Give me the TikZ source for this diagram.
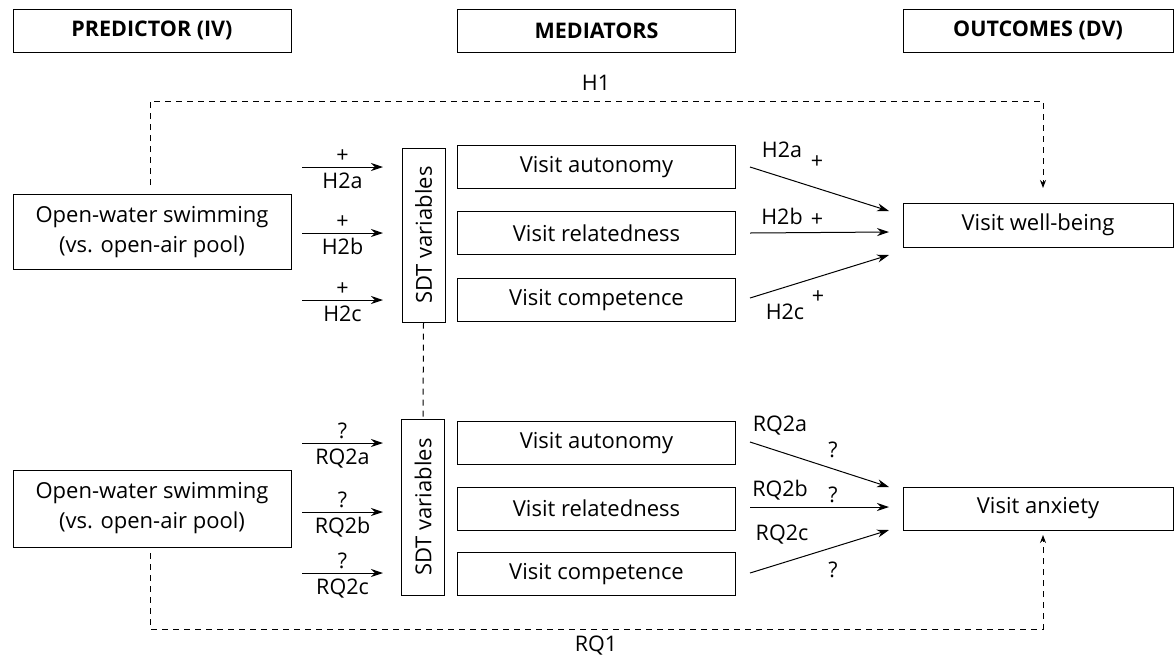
\documentclass[tikz,border=0pt]{standalone}
\usepackage{fontspec}
\setmainfont{Open Sans}
\usetikzlibrary{arrows.meta}

\tikzset{
  box/.style={draw, line width=1pt, inner sep=0pt, align=center, minimum width=278pt, font=\fontsize{22}{30}\selectfont},
  headbox/.style={box, minimum height=43pt, font=\fontsize{21.5}{24}\selectfont\bfseries},
  medbox/.style={box, minimum height=43pt},
  sdtbox/.style={box, rotate=90, minimum width=174pt, minimum height=43pt},
  path/.style={line width=1pt, -{Stealth[length=12pt, width=8pt]}},
  hyp/.style={line width=1pt, dash pattern=on 6pt off 5pt},
  lbl/.style={inner sep=0pt, font=\fontsize{21.5}{25}\selectfont}
}

\begin{document}
\begin{tikzpicture}[x=1pt, y=-1pt]
    \useasboundingbox (0,0) rectangle (1174,665);

    % column headings
    \node[headbox] (pred) at (152,30.5) {PREDICTOR (IV)};
    \node[headbox] (med) at (596.5,30.5) {MEDIATORS};
    \node[headbox, minimum width=270pt] (out) at (1038,30.5) {OUTCOMES (DV)};

    % upper model: well-being
    \node[box, minimum height=75pt] (iv1) at (152,232) {Open-water swimming\\(vs. open-air pool)};
    \node[sdtbox] (sdt1) at (423.5,235) {SDT variables};
    \node[medbox] (aut1) at (596.5,167) {Visit autonomy};
    \node[medbox] (rel1) at (596.5,233) {Visit relatedness};
    \node[medbox] (com1) at (596.5,300) {Visit competence};
    \node[box, minimum width=270pt, minimum height=44pt] (wb) at (1038,225) {Visit well-being};

    % lower model: anxiety
    \node[box, minimum height=77pt] (iv2) at (152,508.5) {Open-water swimming\\(vs. open-air pool)};
    \node[sdtbox, minimum width=176pt] (sdt2) at (423,507) {SDT variables};
    \node[medbox] (aut2) at (596.5,443) {Visit autonomy};
    \node[medbox] (rel2) at (596.5,508.5) {Visit relatedness};
    \node[medbox] (com2) at (596.5,574) {Visit competence};
    \node[box, minimum width=270pt, minimum height=43pt] (anx) at (1038,508.5) {Visit anxiety};

    % link between the two SDT blocks
    \draw[hyp] (sdt1.west) -- (sdt2.east);

    % predictor -> SDT variables
    \draw[path] (302,167) -- (383,167) node[lbl, midway, above=4pt] (pa1) {+} node[lbl, midway, below=5pt] (ha1) {H2a};
    \draw[path] (302,233) -- (383,233) node[lbl, midway, above=4pt] (pb1) {+} node[lbl, midway, below=5pt] (hb1) {H2b};
    \draw[path] (302,300) -- (383,300) node[lbl, midway, above=4pt] (pc1) {+} node[lbl, midway, below=5pt] (hc1) {H2c};
    \draw[path] (302,443) -- (383,443) node[lbl, midway, above=4pt] (qa2) {?} node[lbl, midway, below=5pt] (ra2) {RQ2a};
    \draw[path] (302,512) -- (383,512) node[lbl, midway, above=4pt] (qb2) {?} node[lbl, midway, below=5pt] (rb2) {RQ2b};
    \draw[path] (302,573) -- (383,573) node[lbl, midway, above=4pt] (qc2) {?} node[lbl, midway, below=5pt] (rc2) {RQ2c};

    % mediators -> outcomes
    \draw[path] (750,167) -- (889,211);
    \draw[path] (750,233) -- (889,232);
    \draw[path] (750,298) -- (889,255);
    \node[lbl] (h2a) at (782,150) {H2a};
    \node[lbl] (p2a) at (817,162) {+};
    \node[lbl] (h2b) at (782,216) {H2b};
    \node[lbl] (p2b) at (817,220) {+};
    \node[lbl] (h2c) at (785,312) {H2c};
    \node[lbl] (p2c) at (818,297) {+};

    \draw[path] (750,442) -- (889,487);
    \draw[path] (750,507) -- (889,507);
    \draw[path] (750,573) -- (889,530);
    \node[lbl] (r2a) at (780,426) {RQ2a};
    \node[lbl] (q2a) at (833,450) {?};
    \node[lbl] (r2b) at (780,490) {RQ2b};
    \node[lbl] (q2b) at (833,495) {?};
    \node[lbl] (r2c) at (782,535) {RQ2c};
    \node[lbl] (q2c) at (833,570) {?};

    % direct effects
    \draw[hyp, -{Stealth[length=8pt, width=6pt]}] (150,185) -- (150,101) -- (1043,101) -- (1043,188);
    \node[lbl] (h1) at (596,83) {H1};
    \draw[hyp, -{Stealth[length=8pt, width=6pt]}] (150,553) -- (150,629) -- (1043,629) -- (1043,535);
    \node[lbl] (rq1) at (596,646) {RQ1};
\end{tikzpicture}
\end{document}
